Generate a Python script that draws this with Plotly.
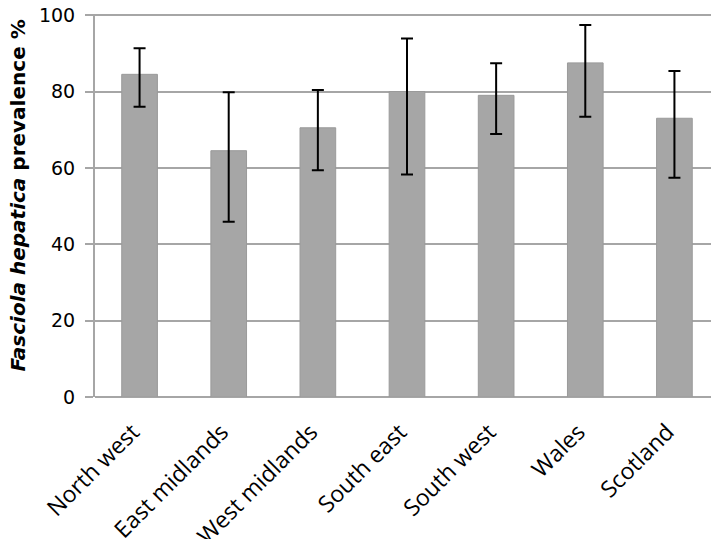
import plotly.graph_objects as go

regions = ["North west", "East midlands", "West midlands", "South east",
           "South west", "Wales", "Scotland"]
prevalence = [84.5, 64.5, 70.5, 80.0, 79.0, 87.5, 73.0]
ci_upper = [91.3, 79.8, 80.4, 93.9, 87.4, 97.4, 85.4]
ci_lower = [76.0, 45.9, 59.4, 58.3, 68.9, 73.4, 57.4]

err_plus = [u - p for u, p in zip(ci_upper, prevalence)]
err_minus = [p - l for p, l in zip(prevalence, ci_lower)]

GRID = "#a6a6a6"
BAR = "#a6a6a6"

fig = go.Figure(go.Bar(
    x=regions, y=prevalence,
    marker=dict(color=BAR, line=dict(color="#9a9a9a", width=1)),
    error_y=dict(type="data", symmetric=False, array=err_plus, arrayminus=err_minus,
                 color="black", thickness=2, width=6),
))

# page body adds 8px margin, so the figure is a bit smaller than the window
fig.update_layout(
    width=711, height=531,
    plot_bgcolor="white", paper_bgcolor="white",
    margin=dict(l=87, r=0, t=6, b=142),
    bargap=0.6,
    showlegend=False,
    font=dict(family="DejaVu Sans, sans-serif", color="black", size=17),
)
fig.update_xaxes(
    tickangle=-45, showgrid=False, showline=False, ticks="",
    tickfont=dict(family="Open Sans, sans-serif", size=23),
    ticklabelstandoff=16, ticklabelshift=-7, automargin=False,
)
fig.update_yaxes(
    range=[0, 100.3], tickvals=[0, 20, 40, 60, 80, 100],
    showgrid=True, gridcolor=GRID, gridwidth=2,
    showline=True, linecolor=GRID, linewidth=2,
    ticks="outside", tickcolor=GRID, ticklen=8, tickwidth=2,
    zeroline=True, zerolinecolor=GRID, zerolinewidth=2,
    tickfont=dict(size=19), ticklabelstandoff=6, automargin=False,
    ticklabeloverflow="allow",
)

fig.add_annotation(
    text="<b><i>Fasciola hepatica</i> prevalence %</b>",
    xref="paper", yref="paper", x=-0.124, y=0.525,
    xanchor="center", yanchor="middle",
    textangle=-90, showarrow=False, font=dict(size=20),
)

fig.write_html("out.html")
